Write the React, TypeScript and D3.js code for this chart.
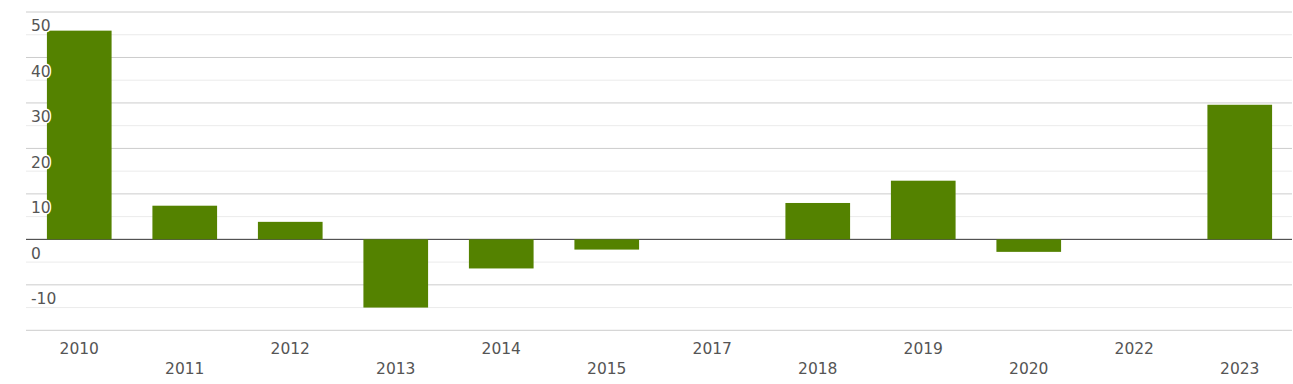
import React from "react";
import * as d3 from "d3";

const years = ["2010", "2011", "2012", "2013", "2014", "2015", "2017", "2018", "2019", "2020", "2022", "2023"];
const values = [45.9, 7.4, 3.85, -15.0, -6.4, -2.25, 0, 8.0, 12.9, -2.75, 0, 29.6];
const majorTicks = [50, 40, 30, 20, 10, 0, -10, -20];
const minorTicks = [45, 35, 25, 15, 5, -5, -15];

const W = 1293;
const H = 384;
const left = 26;
const right = 1292;

const x = d3
	.scaleBand<string>()
	.domain(years)
	.range([left + 0.5, right + 0.5])
	.paddingInner(0.387)
	.paddingOuter(0.1935);
const y = d3.scaleLinear().domain([-20, 50]).range([330.3, 12]);

const font = "'DejaVu Sans', sans-serif";

export default function App() {
	return (
		<svg
			width={W}
			height={H}
			style={{ position: "absolute", left: 0, top: 0 }}
			fontFamily={font}>
			{minorTicks.map((t) => (
				<line key={"m" + t} x1={left} x2={right} y1={y(t)} y2={y(t)} stroke="#ebebeb" strokeWidth={1} />
			))}
			{majorTicks.map((t) => (
				<line key={"g" + t} x1={left} x2={right} y1={y(t)} y2={y(t)} stroke={t === 0 ? "#333" : "#ccc"} strokeWidth={1} />
			))}
			{years.map((yr, i) => {
				const v = values[i];
				if (!v) return null;
				return (
					<rect
						key={yr}
						x={x(yr)}
						width={x.bandwidth()}
						y={y(Math.max(0, v))}
						height={Math.abs(y(v) - y(0))}
						fill="#548200"
					/>
				);
			})}
			{majorTicks
				.filter((t) => t > -20)
				.map((t) => (
					<text
						key={"l" + t}
						x={31}
						y={y(t) + 19.3}
						fontSize={15.5}
						fill="#555"
						stroke="#fff"
						strokeWidth={3}
						strokeLinejoin="round"
						paintOrder="stroke">
						{t}
					</text>
				))}
			{years.map((yr, i) => (
				<text
					key={"x" + yr}
					x={(x(yr) as number) + x.bandwidth() / 2}
					y={i % 2 === 0 ? 354 : 374}
					textAnchor="middle"
					fontSize={15.5}
					fill="#555">
					{yr}
				</text>
			))}
		</svg>
	);
}
